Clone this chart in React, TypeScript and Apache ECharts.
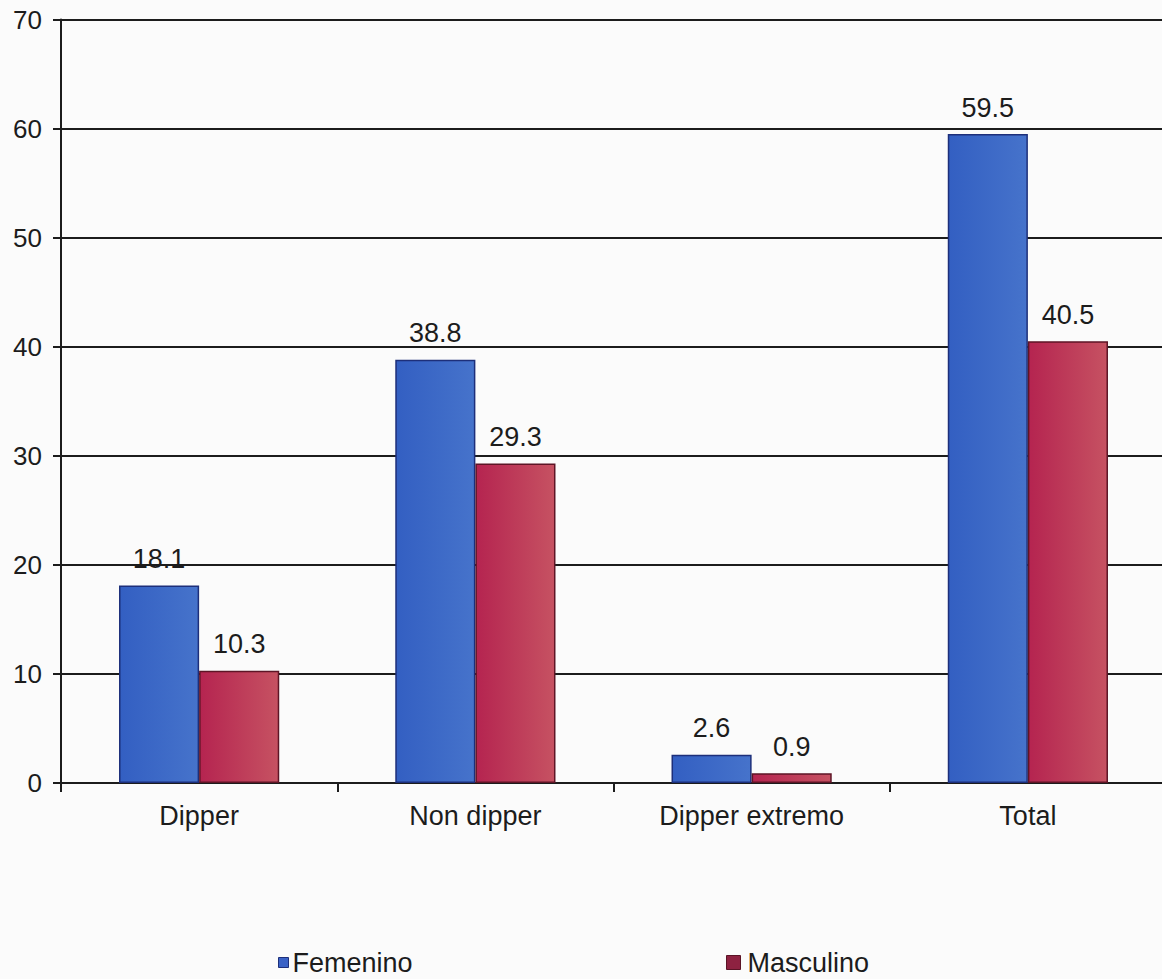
import React, { useEffect, useRef } from "react";
import * as echarts from "echarts";

// Categories and series values (percentages)
const categories = ["Dipper", "Non dipper", "Dipper extremo", "Total"];
const femenino = [18.1, 38.8, 2.6, 59.5];
const masculino = [10.3, 29.3, 0.9, 40.5];
const seriesNames = ["Femenino", "Masculino"];

const FONT = "'Liberation Sans', Arial, Helvetica, sans-serif";
const INK = "#1c1c1c";

export default function App() {
  const ref = useRef<HTMLDivElement>(null);

  useEffect(() => {
    if (!ref.current) return;
    const chart = echarts.init(ref.current, undefined, { renderer: "svg" });

    const label = {
      show: true,
      position: "top" as const,
      distance: 13,
      color: INK,
      fontSize: 27,
      fontFamily: FONT,
      formatter: (p: any) => Number(p.value).toFixed(1),
    };

    chart.setOption({
      animation: false,
      backgroundColor: "#fbfbfb",
      grid: {
        left: 61,
        right: -4,
        top: 19.5,
        bottom: 196,
        containLabel: false,
        outerBoundsMode: "none",
      },
      legend: [
        {
          data: [
            {
              name: seriesNames[0],
              itemStyle: { color: "#3a62c6", borderColor: "#1d2f7a", borderWidth: 1 },
            },
          ],
          left: 273,
          top: 944,
          itemWidth: 10,
          itemHeight: 10,
          icon: "rect",
          textStyle: { fontSize: 27, fontFamily: FONT, color: INK, padding: [0, 0, 0, -1] },
        },
        {
          data: [
            {
              name: seriesNames[1],
              itemStyle: { color: "#8e2241", borderColor: "#5a1426", borderWidth: 1 },
            },
          ],
          left: 721,
          top: 944,
          itemWidth: 14,
          itemHeight: 14,
          icon: "rect",
          textStyle: { fontSize: 27, fontFamily: FONT, color: INK, padding: [0, 0, 0, 2] },
        },
      ],
      xAxis: {
        type: "category",
        data: categories,
        axisLine: { show: true, lineStyle: { color: INK, width: 2 } },
        axisTick: { show: true, length: 9, lineStyle: { color: INK, width: 2 } },
        axisLabel: { color: INK, fontSize: 27, fontFamily: FONT, margin: 19 },
      },
      yAxis: {
        type: "value",
        min: 0,
        max: 70,
        interval: 10,
        axisLine: { show: true, lineStyle: { color: INK, width: 2 } },
        axisTick: { show: true, length: 8, lineStyle: { color: INK, width: 2 } },
        axisLabel: { color: INK, fontSize: 26, fontFamily: FONT, margin: 19 },
        splitLine: { show: true, lineStyle: { color: INK, width: 2 } },
      },
      series: [
        {
          name: seriesNames[0],
          type: "bar",
          data: femenino,
          barGap: "0%",
          barCategoryGap: "42%",
          itemStyle: {
            color: new echarts.graphic.LinearGradient(0, 0, 1, 0, [
              { offset: 0, color: "#335fc2" },
              { offset: 1, color: "#4673cb" },
            ]),
            borderColor: "#1d2f7a",
            borderWidth: 1.5,
          },
          label,
        },
        {
          name: seriesNames[1],
          type: "bar",
          data: masculino,
          barGap: "0%",
          barCategoryGap: "42%",
          itemStyle: {
            color: new echarts.graphic.LinearGradient(0, 0, 1, 0, [
              { offset: 0, color: "#b52450" },
              { offset: 1, color: "#c65262" },
            ]),
            borderColor: "#5e1526",
            borderWidth: 1.5,
          },
          label,
        },
      ],
    });

    return () => chart.dispose();
  }, []);

  return (
    <div
      ref={ref}
      style={{ position: "absolute", left: 0, top: 0, width: 1162, height: 979 }}
    />
  );
}
